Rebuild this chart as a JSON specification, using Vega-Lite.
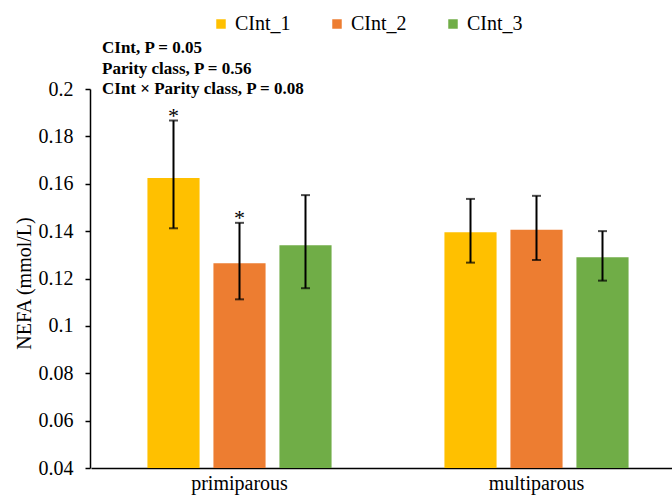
{
  "$schema": "https://vega.github.io/schema/vega-lite/v6.json",
  "width": 582,
  "height": 379,
  "autosize": {"type": "none"},
  "padding": {"left": 90, "top": 89, "right": 0, "bottom": 36},
  "background": "white",
  "config": {
    "font": "'Liberation Serif', 'Times New Roman', serif",
    "view": {"stroke": null},
    "axis": {"grid": false, "domainColor": "black", "tickColor": "black", "labelColor": "black", "titleColor": "black", "labelFont": "'Liberation Serif', 'Times New Roman', serif", "titleFont": "'Liberation Serif', 'Times New Roman', serif"},
    "legend": {"labelFont": "'Liberation Serif', 'Times New Roman', serif"},
    "text": {"font": "'Liberation Serif', 'Times New Roman', serif"}
  },
  "title": {
    "text": ["CInt, P = 0.05", "Parity class, P = 0.56", "CInt × Parity class, P = 0.08"],
    "anchor": "start",
    "frame": "group",
    "dx": 12,
    "offset": -84.5,
    "font": "'Liberation Serif', 'Times New Roman', serif",
    "fontSize": 17,
    "fontWeight": "bold",
    "lineHeight": 20.7,
    "color": "black"
  },
  "data": {
    "values": [
      {"parity": "primiparous", "cint": "CInt_1", "mean": 0.1624, "lo": 0.1412, "hi": 0.1867, "sig": "*"},
      {"parity": "primiparous", "cint": "CInt_2", "mean": 0.1264, "lo": 0.1112, "hi": 0.1435, "sig": "*"},
      {"parity": "primiparous", "cint": "CInt_3", "mean": 0.134, "lo": 0.1159, "hi": 0.1552, "sig": ""},
      {"parity": "multiparous", "cint": "CInt_1", "mean": 0.1395, "lo": 0.1267, "hi": 0.1536, "sig": ""},
      {"parity": "multiparous", "cint": "CInt_2", "mean": 0.1406, "lo": 0.1278, "hi": 0.1549, "sig": ""},
      {"parity": "multiparous", "cint": "CInt_3", "mean": 0.129, "lo": 0.1191, "hi": 0.140, "sig": ""}
    ]
  },
  "encoding": {
    "x": {
      "field": "parity",
      "type": "nominal",
      "sort": ["primiparous", "multiparous"],
      "scale": {"range": [1, 595], "paddingInner": 0, "paddingOuter": 0},
      "axis": {"title": null, "labelAngle": 0, "ticks": false, "labelFontSize": 20, "labelPadding": 5, "domainWidth": 1.5}
    },
    "xOffset": {
      "field": "cint",
      "type": "nominal",
      "sort": ["CInt_1", "CInt_2", "CInt_3"],
      "scale": {"paddingInner": 0.21, "paddingOuter": 0.855}
    }
  },
  "layer": [
    {
      "mark": {"type": "bar"},
      "encoding": {
        "y": {
          "field": "mean",
          "type": "quantitative",
          "scale": {"domain": [0.04, 0.2], "zero": false, "nice": false},
          "axis": {
            "title": "NEFA (mmol/L)",
            "values": [0.04, 0.06, 0.08, 0.1, 0.12, 0.14, 0.16, 0.18, 0.2],
            "format": ".2~f",
            "labelFontSize": 20,
            "labelPadding": 12,
            "tickSize": 5,
            "tickWidth": 1.5,
            "domainWidth": 1.5,
            "titleFontSize": 20,
            "titleFontWeight": "normal",
            "titlePadding": 4,
            "titleY": 194
          }
        },
        "y2": {"datum": 0.04},
        "color": {
          "field": "cint",
          "type": "nominal",
          "sort": ["CInt_1", "CInt_2", "CInt_3"],
          "scale": {"domain": ["CInt_1", "CInt_2", "CInt_3"], "range": ["#FFC000", "#ED7D31", "#70AD47"]},
          "legend": {
            "title": null,
            "orient": "none",
            "direction": "horizontal",
            "legendX": 121,
            "legendY": -75,
            "symbolType": "square",
            "symbolSize": 90,
            "symbolStrokeWidth": 0,
            "labelFontSize": 20,
            "labelColor": "black",
            "labelOffset": 4,
            "columnPadding": 36
          }
        }
      }
    },
    {
      "mark": {"type": "rule", "color": "black", "strokeWidth": 2},
      "encoding": {
        "y": {"field": "lo", "type": "quantitative"},
        "y2": {"field": "hi"}
      }
    },
    {
      "mark": {"type": "tick", "color": "black", "thickness": 2, "size": 9},
      "encoding": {"y": {"field": "lo", "type": "quantitative"}}
    },
    {
      "mark": {"type": "tick", "color": "black", "thickness": 2, "size": 9},
      "encoding": {"y": {"field": "hi", "type": "quantitative"}}
    },
    {
      "mark": {"type": "text", "baseline": "alphabetic", "dy": 2, "fontSize": 22, "color": "black"},
      "encoding": {
        "y": {"field": "hi", "type": "quantitative"},
        "text": {"field": "sig"}
      }
    }
  ]
}
